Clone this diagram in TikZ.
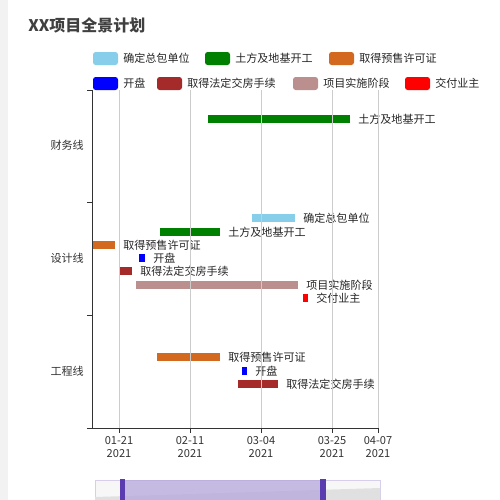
\documentclass[tikz,border=0pt]{standalone}
\usepackage{fontspec}
\setmainfont{Noto Sans CJK SC}
\begin{document}
\begin{tikzpicture}[x=0.75pt,y=-0.75pt,
  lbl/.style={anchor=west,inner sep=0pt,font=\fontsize{8.3}{9}\selectfont,text=black!85},
  cat/.style={anchor=east,inner sep=0pt,font=\fontsize{8.3}{9}\selectfont,text=black!80},
  tk/.style={align=center,inner sep=0pt,font=\fontsize{8.3}{9.5}\selectfont,text=black!80},
  grid/.style={draw=black!20,line width=0.6pt},
  sw/.style={rounded corners=2pt}]
\useasboundingbox (0,0) rectangle (500,500);
\fill[white] (0,0) rectangle (500,500);
\fill[black!5] (0,0) rectangle (8,500);
\definecolor{skyb}{HTML}{87CEEB}\definecolor{grn}{HTML}{008000}
\definecolor{org}{HTML}{D2691E}\definecolor{brn}{HTML}{A52A2A}
\definecolor{rosy}{HTML}{BC8F8F}\definecolor{purp}{HTML}{5B3CB0}
\node[anchor=west,inner sep=0pt,font=\bfseries\fontsize{12}{14}\selectfont,text=black!75] (title) at (28,25) {XX项目全景计划};
% legend
\foreach \x/\c/\t/\n in {93/skyb/确定总包单位/a,205/grn/土方及地基开工/b,329/org/取得预售许可证/c}{
 \fill[\c,sw] (\x,52) rectangle (\x+25,65);
 \node[lbl] (l\n) at (\x+30,58.5) {\t};}
\foreach \x/\c/\t/\n in {93/blue/开盘/d,157/brn/取得法定交房手续/e,293/rosy/项目实施阶段/f,405/red/交付业主/g}{
 \fill[\c,sw] (\x,77) rectangle (\x+25,90);
 \node[lbl] (l\n) at (\x+30,83.5) {\t};}
% bars
\newcommand{\ganttbar}[6]{\fill[#1] (#2,#4) rectangle (#3,#4+8); \node[lbl] (#6) at (#3+8,#4+4) {#5};}
\ganttbar{grn}{208}{350}{115}{土方及地基开工}{b1}
\ganttbar{skyb}{252}{295}{214}{确定总包单位}{b2}
\ganttbar{grn}{160}{220}{228}{土方及地基开工}{b3}
\ganttbar{org}{93}{115}{241}{取得预售许可证}{b4}
\ganttbar{blue}{139}{145}{254}{开盘}{b5}
\ganttbar{brn}{119}{132}{267}{取得法定交房手续}{b6}
\ganttbar{rosy}{136}{298}{281}{项目实施阶段}{b7}
\ganttbar{red}{303}{308}{294}{交付业主}{b8}
\ganttbar{org}{157}{220}{353}{取得预售许可证}{b9}
\ganttbar{blue}{242}{247}{367}{开盘}{b10}
\ganttbar{brn}{238}{278}{380}{取得法定交房手续}{b11}
% grid
\foreach \x in {119,190,261,332,378} \draw[grid] (\x,90) -- (\x,428);
% axes
\draw[black!80,line width=0.7pt] (92,90) -- (92,428) -- (378,428);
\foreach \y in {90,202,315,428} \draw[black!80,line width=0.7pt] (87,\y) -- (92,\y);
\foreach \x in {119,190,261,332,378} \draw[black!80,line width=0.7pt] (\x,428) -- (\x,433);
\node[cat] (c1) at (84,145) {财务线};
\node[cat] (c2) at (84,258) {设计线};
\node[cat] (c3) at (84,371) {工程线};
\foreach \x/\d/\n in {119/01-21/t1,190/02-11/t2,261/03-04/t3,332/03-25/t4,378/04-07/t5}
 \node[tk] (\n) at (\x,447) {\d\\2021};
% data zoom
\fill[black!3] (95,480) rectangle (380,500);
\draw[purp!25] (95,480) rectangle (380,500);
\fill[black!12] (95,497) -- (380,488) -- (380,500) -- (95,500) -- cycle;
\fill[purp!45,opacity=0.75] (122,480) rectangle (323,500);
\fill[purp] (120,479) rectangle (125,500);
\fill[purp] (320,479) rectangle (326,500);
\end{tikzpicture}
\end{document}
